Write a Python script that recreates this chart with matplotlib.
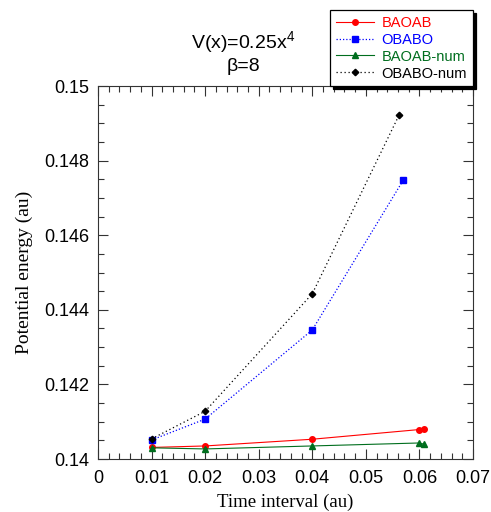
import matplotlib
matplotlib.use("Agg")
import matplotlib.pyplot as plt
from matplotlib.ticker import MultipleLocator, FuncFormatter

# time step (au) and potential energy (au) for each integrator
dt_baoab = [0.01, 0.02, 0.04, 0.06, 0.0608]
pe_baoab = [0.14031, 0.14035, 0.14053, 0.14079, 0.14080]

dt_obabo = [0.01, 0.02, 0.04, 0.0570]
pe_obabo = [0.14051, 0.14107, 0.14346, 0.14748]

dt_baoab_num = [0.01, 0.02, 0.04, 0.06, 0.0608]
pe_baoab_num = [0.14030, 0.14027, 0.14035, 0.14043, 0.14040]

dt_obabo_num = [0.01, 0.02, 0.04, 0.0562]
pe_obabo_num = [0.14054, 0.14128, 0.14443, 0.14922]

SANS = ["Liberation Sans", "Arial", "DejaVu Sans"]
SERIF = ["Liberation Serif", "Times New Roman", "DejaVu Serif"]
RED, BLUE, GREEN, BLACK = "#ff0000", "#0000ff", "#006e1e", "#000000"

plt.rcParams.update({
    "font.family": SANS,
    "mathtext.fontset": "custom",
    "mathtext.rm": "Liberation Sans",
    "mathtext.it": "Liberation Sans",
})

fig = plt.figure(figsize=(4.91, 5.12), dpi=100)
ax = fig.add_axes([0.1996, 0.1035, 0.7637, 0.7285])

ax.plot(dt_baoab, pe_baoab, color=RED, lw=0.8, marker="o", ms=4, label="BAOAB")
ax.plot(dt_obabo, pe_obabo, color=BLUE, lw=0.9, ls=(0, (1, 1.6)), marker="s", ms=3.8,
        label="OBABO")
ax.plot(dt_baoab_num, pe_baoab_num, color=GREEN, lw=0.8, marker="^", ms=4.2,
        label="BAOAB-num")
ax.plot(dt_obabo_num, pe_obabo_num, color=BLACK, lw=0.9, ls=(0, (1, 2.2)), marker="D",
        ms=3.3, label="OBABO-num")

ax.set_xlim(0, 0.07)
ax.set_ylim(0.14, 0.15)
ax.xaxis.set_major_locator(MultipleLocator(0.01))
ax.xaxis.set_minor_locator(MultipleLocator(0.002))
ax.yaxis.set_major_locator(MultipleLocator(0.002))
ax.yaxis.set_minor_locator(MultipleLocator(0.0005))
fmt = FuncFormatter(lambda v, p: "%g" % round(v, 6))
ax.xaxis.set_major_formatter(fmt)
ax.yaxis.set_major_formatter(fmt)
ax.tick_params(which="both", direction="in", top=True, right=True, width=0.8,
               labelsize=13, colors="#333333", labelcolor="black")
ax.tick_params(which="major", length=7)
ax.tick_params(axis="x", which="major", pad=8)
ax.tick_params(axis="y", which="major", pad=6)
ax.tick_params(which="minor", length=4)
for s in ax.spines.values():
    s.set_linewidth(0.8)
    s.set_color("#333333")

ax.set_xlabel("Time interval (au)", family=SERIF, fontsize=13.5, labelpad=5)
ax.set_ylabel("Potential energy (au)", family=SERIF, fontsize=14, labelpad=8)

fig.text(0.495, 0.918, r"V(x)=0.25x$^4$", ha="center", va="center", fontsize=14)
fig.text(0.495, 0.871, "\u03b2=8", ha="center", va="center", fontsize=14)

leg = ax.legend(loc="upper right", bbox_to_anchor=(1.0, 1.204), fontsize=10.5,
                frameon=True, fancybox=False, edgecolor="black", framealpha=1,
                shadow={"color": "black", "alpha": 1, "ox": 2.2, "oy": -2.2},
                handlelength=2.6, handletextpad=0.55, labelspacing=0.2,
                borderpad=0.4, borderaxespad=0)
leg.get_frame().set_linewidth(0.9)
for t, c in zip(leg.get_texts(), [RED, BLUE, GREEN, BLACK]):
    t.set_color(c)

fig.savefig("out.png", dpi=100)
